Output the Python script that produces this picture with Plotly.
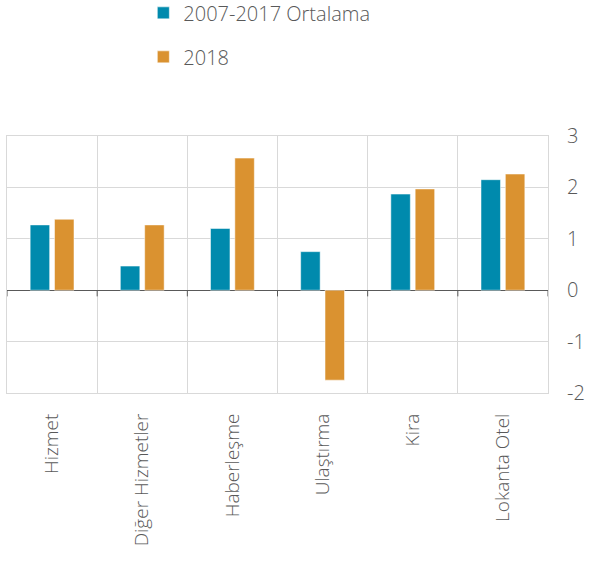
import plotly.graph_objects as go

categories = ["Hizmet", "Diğer Hizmetler", "Haberleşme", "Ulaştırma", "Kira", "Lokanta Otel"]
avg_2007_2017 = [1.27, 0.47, 1.20, 0.75, 1.87, 2.15]
val_2018 = [1.38, 1.27, 2.57, -1.75, 1.97, 2.26]
series_names = ["2007-2017 Ortalama", "2018"]
y_ticks = [-2, -1, 0, 1, 2, 3]
y_tick_text = ["-2", "-1", "0", "1", "2", "3"]

BLUE = "#008AAD"
ORANGE = "#DA9230"
TXT = "#595959"
GRID = "#D9D9D9"
FONT = "Open Sans"

fig = go.Figure()
fig.add_trace(go.Bar(x=categories, y=avg_2007_2017, name=series_names[0],
                     marker=dict(color=BLUE, line=dict(color="white", width=0.5)),
                     legendgroup="a"))
fig.add_trace(go.Bar(x=categories, y=val_2018, name=series_names[1],
                     marker=dict(color=ORANGE, line=dict(color="white", width=0.5)),
                     legendgroup="b"))

# small tick marks on zero line at category boundaries
for i in range(len(categories) + 1):
    fig.add_shape(type="line", xref="x", yref="y", x0=i - 0.5, x1=i - 0.5,
                  y0=0, y1=-0.12, line=dict(color=TXT, width=1))

fig.update_layout(
    width=589, height=564,
    margin=dict(l=7, r=41, t=136, b=171, autoexpand=False),
    paper_bgcolor="white", plot_bgcolor="white",
    barmode="group", bargap=0.46, bargroupgap=0.2,
    font=dict(family=FONT, color=TXT),
    legend=dict(x=0.252, y=1.555, xanchor="left", yanchor="top",
                orientation="v", font=dict(size=20, color=TXT, weight=300),
                tracegroupgap=15, itemwidth=30, bgcolor="rgba(0,0,0,0)"),
    showlegend=True,
)
fig.update_xaxes(
    tickangle=-90, tickson="boundaries", showgrid=True, gridcolor=GRID, gridwidth=1,
    ticks="", tickfont=dict(size=19, color=TXT, weight=300), showline=True, linecolor=GRID,
    mirror=True, range=[-0.5, len(categories) - 0.5], ticklabelstandoff=12,
)
fig.update_yaxes(
    side="right", range=[-2, 3], tickvals=y_ticks, ticktext=y_tick_text,
    showgrid=True, gridcolor=GRID,
    gridwidth=1, zeroline=True, zerolinecolor=TXT, zerolinewidth=1,
    tickfont=dict(size=20, color=TXT, weight=300), ticks="", ticklabelstandoff=14,
    showline=True, linecolor=GRID, mirror=True,
)

fig.write_html("out.html")
